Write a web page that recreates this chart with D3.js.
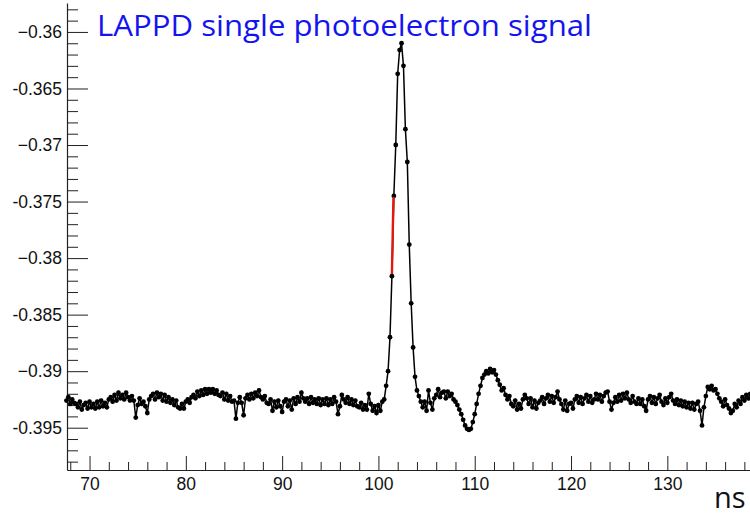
<!DOCTYPE html>
<html>
	<head>
		<meta charset="UTF-8">
		<title>LAPPD single photoelectron signal</title>
		<style>
			body { margin: 0; background: #fff; }
		</style>
	</head>
	<body>
		<div id="chart"></div>
	</body>
	<script src="https://cdn.jsdelivr.net/npm/d3@7/dist/d3.min.js"></script>
	<script>
		// waveform samples, 0.2 ns apart, first sample at 67.6 ns
		var sampleStart = 67.6;
		var sampleStep = 0.2;
		var signal = [
			-0.3926, -0.3923, -0.3929, -0.3925, -0.3928,
			-0.3929, -0.3932, -0.3927, -0.3934, -0.3930,
			-0.3928, -0.3933, -0.3927, -0.3932, -0.3929,
			-0.3933, -0.3927, -0.3932, -0.3926, -0.3931,
			-0.3928, -0.3932, -0.3925, -0.3923, -0.3927,
			-0.3921, -0.3926, -0.3919, -0.3924, -0.3921,
			-0.3925, -0.3919, -0.3923, -0.3926, -0.3922,
			-0.3926, -0.3941, -0.3930, -0.3924, -0.3929,
			-0.3927, -0.3931, -0.3937, -0.3925, -0.3922,
			-0.3920, -0.3925, -0.3919, -0.3923, -0.3920,
			-0.3926, -0.3921, -0.3927, -0.3923, -0.3928,
			-0.3925, -0.3930, -0.3926, -0.3932, -0.3933,
			-0.3929, -0.3933, -0.3927, -0.3925, -0.3928,
			-0.3923, -0.3921, -0.3924, -0.3918, -0.3922,
			-0.3917, -0.3921, -0.3916, -0.3920, -0.3916,
			-0.3919, -0.3916, -0.3920, -0.3917, -0.3921,
			-0.3922, -0.3919, -0.3925, -0.3920, -0.3926,
			-0.3922, -0.3927, -0.3926, -0.3942, -0.3928,
			-0.3923, -0.3928, -0.3939, -0.3924, -0.3921,
			-0.3925, -0.3920, -0.3924, -0.3919, -0.3922,
			-0.3917, -0.3923, -0.3925, -0.3922, -0.3928,
			-0.3929, -0.3925, -0.3935, -0.3927, -0.3932,
			-0.3926, -0.3931, -0.3936, -0.3927, -0.3925,
			-0.3931, -0.3926, -0.3934, -0.3924, -0.3929,
			-0.3923, -0.3927, -0.3919, -0.3924, -0.3927,
			-0.3924, -0.3929, -0.3923, -0.3928, -0.3925,
			-0.3929, -0.3924, -0.3930, -0.3925, -0.3929,
			-0.3924, -0.3930, -0.3925, -0.3929, -0.3923,
			-0.3927, -0.3938, -0.3931, -0.3921, -0.3925,
			-0.3928, -0.3923, -0.3929, -0.3925, -0.3930,
			-0.3926, -0.3931, -0.3932, -0.3928, -0.3934,
			-0.3930, -0.3934, -0.3920, -0.3929, -0.3935,
			-0.3931, -0.3937, -0.3930, -0.3935, -0.3927,
			-0.3925, -0.3913, -0.3900, -0.3870, -0.3816,
			-0.3745, -0.3700, -0.3637, -0.3616, -0.3610,
			-0.3630, -0.3686, -0.3715, -0.3788, -0.3840,
			-0.3879, -0.3905, -0.3917, -0.3922, -0.3927,
			-0.3932, -0.3927, -0.3935, -0.3917, -0.3928,
			-0.3934, -0.3924, -0.3921, -0.3916, -0.3923,
			-0.3919, -0.3918, -0.3924, -0.3918, -0.3922,
			-0.3920, -0.3925, -0.3927, -0.3930, -0.3934,
			-0.3938, -0.3943, -0.3948, -0.3951, -0.3952,
			-0.3951, -0.3945, -0.3938, -0.3929, -0.3920,
			-0.3913, -0.3906, -0.3903, -0.3900, -0.3902,
			-0.3898, -0.3901, -0.3899, -0.3903, -0.3908,
			-0.3912, -0.3917, -0.3915, -0.3921, -0.3925,
			-0.3922, -0.3929, -0.3931, -0.3926, -0.3934,
			-0.3929, -0.3933, -0.3925, -0.3921, -0.3924,
			-0.3929, -0.3924, -0.3932, -0.3926, -0.3933,
			-0.3928, -0.3926, -0.3923, -0.3929, -0.3924,
			-0.3921, -0.3927, -0.3922, -0.3928, -0.3923,
			-0.3918, -0.3925, -0.3929, -0.3934, -0.3926,
			-0.3935, -0.3929, -0.3928, -0.3933, -0.3925,
			-0.3922, -0.3928, -0.3923, -0.3929, -0.3924,
			-0.3921, -0.3927, -0.3922, -0.3928, -0.3925,
			-0.3920, -0.3925, -0.3921, -0.3927, -0.3922,
			-0.3919, -0.3918, -0.3927, -0.3934, -0.3928,
			-0.3923, -0.3927, -0.3921, -0.3926, -0.3920,
			-0.3924, -0.3919, -0.3925, -0.3928, -0.3922,
			-0.3927, -0.3929, -0.3924, -0.3929, -0.3925,
			-0.3931, -0.3935, -0.3925, -0.3922, -0.3928,
			-0.3923, -0.3929, -0.3924, -0.3921, -0.3927,
			-0.3930, -0.3924, -0.3928, -0.3923, -0.3920,
			-0.3926, -0.3929, -0.3925, -0.3930, -0.3926,
			-0.3931, -0.3927, -0.3932, -0.3928, -0.3933,
			-0.3928, -0.3934, -0.3929, -0.3927, -0.3935,
			-0.3948, -0.3932, -0.3922, -0.3914, -0.3916,
			-0.3913, -0.3917, -0.3916, -0.3920, -0.3924,
			-0.3927, -0.3931, -0.3925, -0.3930, -0.3933,
			-0.3937, -0.3935, -0.3929, -0.3932, -0.3926,
			-0.3929, -0.3923, -0.3926, -0.3921, -0.3924,
			-0.3920, -0.3922
		];

		// red threshold-crossing mark on the rising edge
		var markTimes = [101.40, 101.56];
		var markValues = [-0.3814, -0.3746];

		var xMajorTicks = [70, 80, 90, 100, 110, 120, 130];
		var xTickLabels = ["70", "80", "90", "100", "110", "120", "130"];
		var yMajorTicks = [-0.36, -0.365, -0.37, -0.375, -0.38, -0.385, -0.39, -0.395];
		var yTickLabels = ["\u22120.36", "-0.365", "\u22120.37", "-0.375", "\u22120.38", "-0.385", "\u22120.39", "-0.395"];

		var titleText = "LAPPD single photoelectron signal";
		var xTitle = "ns";

		window.onload = function() {
			var width = 750,
				height = 515;
			var frame = { left: 67, top: 3, bottom: 470, right: 754 };

			var svg = d3.select("#chart")
				.append("svg")
				.attr("width", width)
				.attr("height", height)
				.style("display", "block");

			var xScale = d3.scaleLinear()
				.domain([67.66, 139.0])
				.range([frame.left, frame.right]);
			var yScale = d3.scaleLinear()
				.domain([-0.39874, -0.35744])
				.range([frame.bottom, frame.top]);

			var points = signal.map(function(v, i) {
				return { t: sampleStart + i * sampleStep, v: v };
			});

			var axisColor = "#222";
			var labelFont = "'Liberation Sans', Arial, Helvetica, sans-serif";

			// minor ticks
			var xMinor = d3.range(68, 139, 2).filter(function(d) { return d % 10 !== 0; });
			var yMinor = d3.range(-398, -357, 1).map(function(d) { return d / 1000; })
				.filter(function(d) { return Math.round(d * 1000) % 5 !== 0; });

			svg.append("g")
				.attr("transform", "translate(0," + frame.bottom + ")")
				.call(d3.axisBottom(xScale).tickValues(xMinor).tickSize(-8).tickFormat(""))
				.call(function(g) { g.select(".domain").remove(); })
				.selectAll("line").attr("stroke", axisColor);

			svg.append("g")
				.attr("transform", "translate(" + frame.left + ",0)")
				.call(d3.axisLeft(yScale).tickValues(yMinor).tickSize(-11).tickFormat(""))
				.call(function(g) { g.select(".domain").remove(); })
				.selectAll("line").attr("stroke", axisColor);

			// major ticks and labels
			var xAxis = svg.append("g")
				.attr("transform", "translate(0," + frame.bottom + ")")
				.call(d3.axisBottom(xScale)
					.tickValues(xMajorTicks)
					.tickSizeInner(-14)
					.tickSizeOuter(0)
					.tickPadding(8)
					.tickFormat(function(d, i) { return xTickLabels[i]; }));
			xAxis.select(".domain").attr("stroke", axisColor).attr("stroke-width", 1.2);
			xAxis.selectAll("line").attr("stroke", axisColor);
			xAxis.selectAll("text")
				.attr("font-family", labelFont)
				.attr("font-size", "17.5px")
				.attr("fill", "#111");

			var yAxis = svg.append("g")
				.attr("transform", "translate(" + frame.left + ",0)")
				.call(d3.axisLeft(yScale)
					.tickValues(yMajorTicks)
					.tickSizeInner(-21)
					.tickSizeOuter(0)
					.tickPadding(5)
					.tickFormat(function(d, i) { return yTickLabels[i]; }));
			yAxis.select(".domain").attr("stroke", axisColor).attr("stroke-width", 1.2);
			yAxis.selectAll("line").attr("stroke", axisColor);
			yAxis.selectAll("text")
				.attr("font-family", labelFont)
				.attr("font-size", "17.5px")
				.attr("fill", "#111");

			// waveform
			var line = d3.line()
				.x(function(d) { return xScale(d.t); })
				.y(function(d) { return yScale(d.v); });

			svg.append("path")
				.datum(points)
				.attr("d", line)
				.attr("fill", "none")
				.attr("stroke", "#000")
				.attr("stroke-width", 1.5);

			svg.append("g")
				.selectAll("circle")
				.data(points)
				.join("circle")
				.attr("cx", function(d) { return xScale(d.t); })
				.attr("cy", function(d) { return yScale(d.v); })
				.attr("r", 2.4)
				.attr("fill", "#000");

			var mark = markTimes.map(function(t, i) { return { t: t, v: markValues[i] }; });
			svg.append("path")
				.datum(mark)
				.attr("d", line)
				.attr("fill", "none")
				.attr("stroke", "#e01a10")
				.attr("stroke-width", 2.4);

			// title and axis name
			svg.append("text")
				.attr("x", 97)
				.attr("y", 36)
				.attr("font-family", "'Open Sans', 'Noto Sans', sans-serif")
				.attr("font-size", "29px")
				.attr("textLength", 495)
				.attr("lengthAdjust", "spacingAndGlyphs")
				.attr("fill", "#1414f0")
				.text(titleText);

			svg.append("text")
				.attr("x", 714)
				.attr("y", 508)
				.attr("font-family", "'Open Sans', 'Noto Sans', sans-serif")
				.attr("font-size", "29px")
				.attr("fill", "#111")
				.text(xTitle);
		};
	</script>
</html>
